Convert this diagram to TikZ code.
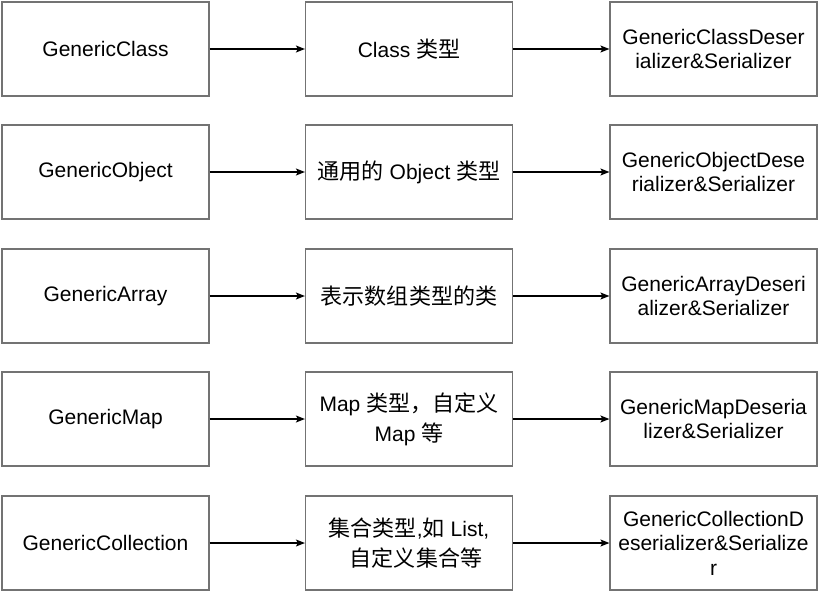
\documentclass[tikz,border=0pt]{standalone}
\usepackage{fontspec}
\setmainfont{Liberation Sans}
\newfontfamily\zhfont[Scale=1.05]{Noto Sans CJK SC}
\newcommand{\zh}[1]{{\zhfont #1}}
\usepackage{tikz}
\usetikzlibrary{arrows.meta}

\begin{document}
\begin{tikzpicture}[
    x=1pt, y=-1pt,
    box/.style={draw=gray!90!black, line width=1.2pt, minimum width=207pt, minimum height=94pt, inner sep=0pt, align=center, font=\fontsize{21}{24.5}\selectfont},
    zhbox/.style={box, font=\fontsize{21}{30}\selectfont},
    arr/.style={-{Stealth[length=9pt, width=7pt, inset=2pt]}, line width=1.1pt, black}
]
\useasboundingbox (0,0) rectangle (818,591);

% --- ROW 1: GenericClass ---
\node[box] (cls) at (105.5, 49) {GenericClass};
\node[zhbox] (clstype) at (409, 49) {Class \zh{类型}};
\node[box] (clsser) at (713.5, 49) {GenericClassDeser\\ializer\&Serializer};

% --- ROW 2: GenericObject ---
\node[box] (obj) at (105.5, 172) {GenericObject};
\node[zhbox] (objtype) at (409, 172) {\zh{通用的} Object \zh{类型}};
\node[box] (objser) at (713.5, 172) {GenericObjectDese\\rializer\&Serializer};

% --- ROW 3: GenericArray ---
\node[box] (arr) at (105.5, 296) {GenericArray};
\node[zhbox] (arrtype) at (409, 296) {\zh{表示数组类型的类}};
\node[box] (arrser) at (713.5, 296) {GenericArrayDeseri\\alizer\&Serializer};

% --- ROW 4: GenericMap ---
\node[box] (map) at (105.5, 419) {GenericMap};
\node[zhbox] (maptype) at (409, 419) {Map \zh{类型，自定义}\\Map \zh{等}};
\node[box] (mapser) at (713.5, 419) {GenericMapDeseria\\lizer\&Serializer};

% --- ROW 5: GenericCollection ---
\node[box] (coll) at (105.5, 543) {GenericCollection};
\node[zhbox] (colltype) at (409, 543) {\zh{集合类型},\zh{如} List,\\\hspace*{14pt}\zh{自定义集合等}};
\node[box] (collser) at (713.5, 543) {GenericCollectionD\\eserializer\&Serialize\\r};

% --- CONNECTIONS ---
\draw[arr] (cls) -- (clstype);
\draw[arr] (clstype) -- (clsser);
\draw[arr] (obj) -- (objtype);
\draw[arr] (objtype) -- (objser);
\draw[arr] (arr) -- (arrtype);
\draw[arr] (arrtype) -- (arrser);
\draw[arr] (map) -- (maptype);
\draw[arr] (maptype) -- (mapser);
\draw[arr] (coll) -- (colltype);
\draw[arr] (colltype) -- (collser);

\end{tikzpicture}
\end{document}
